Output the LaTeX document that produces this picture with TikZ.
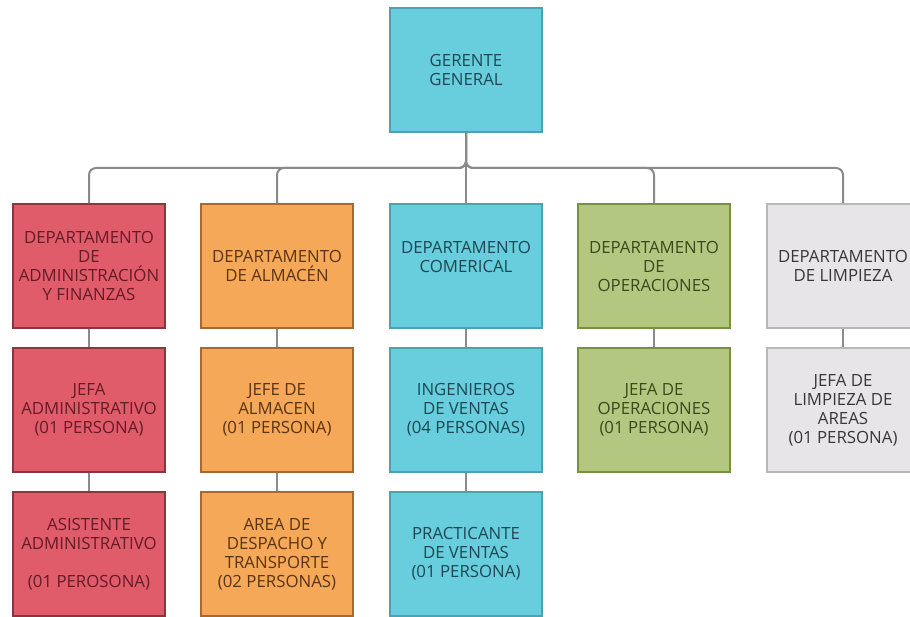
\documentclass[tikz,border=0pt]{standalone}
\usepackage{fontspec}
\setmainfont{Open Sans}
\definecolor{redF}{RGB}{224,92,106}
\definecolor{redB}{RGB}{140,52,64}
\definecolor{redT}{RGB}{100,28,38}
\definecolor{orgF}{RGB}{245,168,88}
\definecolor{orgB}{RGB}{168,104,46}
\definecolor{orgT}{RGB}{90,52,18}
\definecolor{cyaF}{RGB}{104,205,220}
\definecolor{cyaB}{RGB}{74,162,178}
\definecolor{cyaT}{RGB}{28,72,84}
\definecolor{grnF}{RGB}{180,199,128}
\definecolor{grnB}{RGB}{118,146,62}
\definecolor{grnT}{RGB}{60,72,30}
\definecolor{gryF}{RGB}{231,229,232}
\definecolor{gryB}{RGB}{184,184,186}
\definecolor{gryT}{RGB}{55,55,58}
\definecolor{lineC}{RGB}{138,138,140}
\tikzset{
  box/.style={draw, line width=1.6pt, minimum width=152pt, minimum height=124pt,
    inner sep=0pt, align=center, font=\fontsize{16.8}{19}\selectfont},
  redbox/.style={box, fill=redF, draw=redB, text=redT},
  orgbox/.style={box, fill=orgF, draw=orgB, text=orgT},
  cyabox/.style={box, fill=cyaF, draw=cyaB, text=cyaT},
  grnbox/.style={box, fill=grnF, draw=grnB, text=grnT},
  grybox/.style={box, fill=gryF, draw=gryB, text=gryT},
  conn/.style={draw=lineC, line width=2pt, rounded corners=7pt}
}
\begin{document}
\begin{tikzpicture}[x=1pt,y=-1pt]
\useasboundingbox (0,0) rectangle (910,617);
\clip (0,0) rectangle (910,617);
\fill[white] (0,0) rectangle (910,617);
% top
\node[cyabox] (gg) at (466,70) {GERENTE\\GENERAL};
% departments
\node[redbox] (d1) at (89,266) {DEPARTAMENTO\\DE\\ADMINISTRACIÓN\\Y FINANZAS};
\node[orgbox] (d2) at (277,266) {DEPARTAMENTO\\DE ALMACÉN};
\node[cyabox] (d3) at (466,266) {DEPARTAMENTO\\COMERICAL\\\mbox{}};
\node[grnbox] (d4) at (654,266) {DEPARTAMENTO\\DE\\OPERACIONES};
\node[grybox] (d5) at (843,266) {DEPARTAMENTO\\DE LIMPIEZA};
% row 2
\node[redbox] (r1) at (89,410) {JEFA\\ADMINISTRATIVO\\(01 PERSONA)};
\node[orgbox] (r2) at (277,410) {JEFE DE\\ALMACEN\\(01 PERSONA)};
\node[cyabox] (r3) at (466,410) {INGENIEROS\\DE VENTAS\\(04 PERSONAS)};
\node[grnbox] (r4) at (654,410) {JEFA DE\\OPERACIONES\\(01 PERSONA)};
\node[grybox] (r5) at (843,410) {JEFA DE\\LIMPIEZA DE\\AREAS\\(01 PERSONA)};
% row 3
\node[redbox] (s1) at (89,554) {ASISTENTE\\ADMINISTRATIVO\\\mbox{}\\(01 PEROSONA)};
\node[orgbox] (s2) at (277,554) {AREA DE\\DESPACHO Y\\TRANSPORTE\\(02 PERSONAS)};
\node[cyabox] (s3) at (466,554) {PRACTICANTE\\DE VENTAS\\(01 PERSONA)};
% bus
\coordinate (bus) at (466,168);
\foreach \d in {d1,d2,d4,d5}{
  \draw[conn] (gg.south) -- (bus) -- (bus -| \d.north) -- (\d.north);
}
\draw[conn] (gg.south) -- (d3.north);
% verticals
\foreach \a/\b in {d1/r1,d2/r2,d3/r3,d4/r4,d5/r5,r1/s1,r2/s2,r3/s3}{
  \draw[conn] (\a.south) -- (\b.north);
}
\end{tikzpicture}
\end{document}
